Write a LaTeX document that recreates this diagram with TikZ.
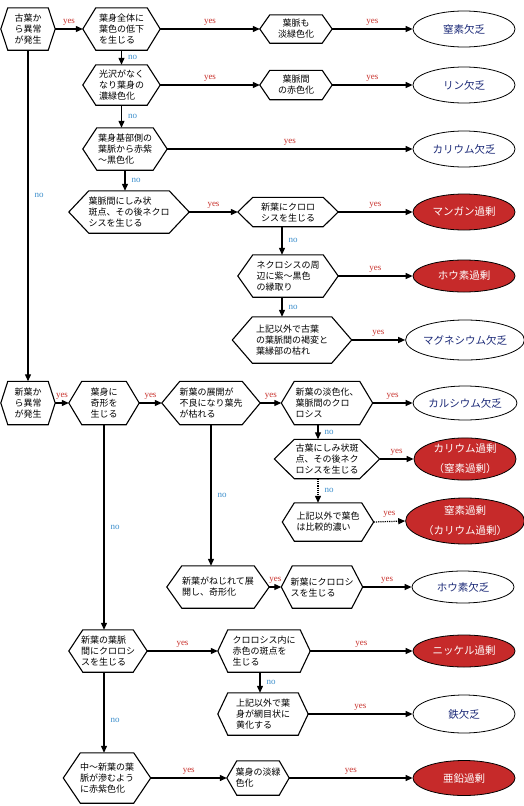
\documentclass[tikz,border=0pt]{standalone}
\usepackage{fontspec}
\usepackage{tikz}
\usetikzlibrary{arrows.meta,shapes.geometric}
\newfontfamily\jpfont{Noto Sans CJK JP}
\newfontfamily\lblfont{Liberation Serif}
\definecolor{yesred}{HTML}{C8322D}
\definecolor{noblue}{HTML}{3A8DCB}
\definecolor{deepred}{HTML}{C62A2A}
\definecolor{navy}{HTML}{1C2A78}

\tikzset{
  hexbox/.style={font=\jpfont\fontsize{9}{11}\selectfont, align=left, inner sep=0pt},
  hexsize/.style args={#1x#2}{minimum width=#1pt, minimum height=#2pt},
  hexline/.style={line width=1.1pt, line join=miter},
  okbox/.style={ellipse, draw, line width=0.8pt, fill=white, text=navy, align=center,
    font=\jpfont\fontsize{10.5}{20}\selectfont, minimum width=102pt, minimum height=36pt, inner sep=0pt},
  badbox/.style={okbox, fill=deepred, text=white},
  arr/.style={-{Triangle[length=7pt,width=6pt]}, line width=1.2pt},
  yeslbl/.style={font=\lblfont\fontsize{9}{9}\selectfont, text=yesred, midway, above=2pt, inner sep=1pt},
  nolbl/.style={font=\lblfont\fontsize{9}{9}\selectfont, text=noblue, midway, right=5pt, inner sep=1pt},
}

\begin{document}
\begin{tikzpicture}[x=1pt,y=-1pt]
  \useasboundingbox (0,0) rectangle (524,806);
  % old leaves
  \node[hexbox, hexsize=54x42] (A1) at (28,29) {古葉か\\ら異常\\が発生};
  \node[hexbox, hexsize=77x42] (A2) at (121.5,29) {葉身全体に\\葉色の低下\\を生じる};
  \node[hexbox, hexsize=72x28, align=center] (A3) at (296,29) {葉脈も\\淡緑色化};
  \node[hexbox, hexsize=77x40] (B2) at (121.5,85) {光沢がなく\\なり葉身の\\濃緑色化};
  \node[hexbox, hexsize=72x29, align=center] (B3) at (296,85) {葉脈間\\の赤色化};
  \node[hexbox, hexsize=84x42] (C2) at (125,149) {葉身基部側の\\葉脈から赤紫\\～黒色化};
  \node[hexbox, hexsize=120x42] (D2) at (129,212) {葉脈間にしみ状\\斑点、その後ネクロ\\シスを生じる};
  \node[hexbox, hexsize=100x29] (D3) at (288,212) {新葉にクロロ\\シスを生じる};
  \node[hexbox, hexsize=100x42] (D4) at (288,276) {ネクロシスの周\\辺に紫～黒色\\の縁取り};
  \node[hexbox, hexsize=119x46] (D5) at (292,340) {上記以外で古葉\\の葉脈間の褐変と\\葉縁部の枯れ};
  % new leaves
  \node[hexbox, hexsize=54x43] (F1) at (28,403) {新葉か\\ら異常\\が発生};
  \node[hexbox, hexsize=70x43, align=center] (F2) at (104,403) {葉身に\\奇形を\\生じる};
  \node[hexbox, hexsize=98x43] (F3) at (211,403) {新葉の展開が\\不良になり葉先\\が枯れる};
  \node[hexbox, hexsize=91x43] (F4) at (327,403) {新葉の淡色化、\\葉脈間のクロ\\ロシス};
  \node[hexbox, hexsize=105x39] (G4) at (327,459) {古葉にしみ状斑\\点、その後ネク\\ロシスを生じる};
  \node[hexbox, hexsize=91x38] (H4) at (328,522) {上記以外で葉色\\は比較的濃い};
  \node[hexbox, hexsize=102x42] (I3) at (218,587) {新葉がねじれて展\\開し、奇形化};
  \node[hexbox, hexsize=81x42] (I4) at (322,587) {新葉にクロロシ\\スを生じる};
  \node[hexbox, hexsize=78x42] (J2) at (108,651) {新葉の葉脈\\間にクロロシ\\スを生じる};
  \node[hexbox, hexsize=92x42] (J3) at (264,651) {クロロシス内に\\赤色の斑点を\\生じる};
  \node[hexbox, hexsize=90x42] (K3) at (263,714) {上記以外で葉\\身が網目状に\\黄化する};
  \node[hexbox, hexsize=87x50] (L2) at (107,778) {中～新葉の葉\\脈が滲むよう\\に赤紫色化};
  \node[hexbox, hexsize=62x34] (L3) at (258,778) {葉身の淡緑\\色化};
  \foreach \n/\d in {A1/7,A2/13,A3/10,B2/13,B3/10,C2/14,D2/20,D3/15,D4/15,D5/20,
      F1/7,F2/13,F3/18,F4/13,G4/20,H4/12,I3/15,I4/11,J2/14,J3/10,K3/10,L2/17,L3/10}
    \draw[hexline] (\n.west) -- ([xshift=\d pt]\n.north west) -- ([xshift=-\d pt]\n.north east)
      -- (\n.east) -- ([xshift=-\d pt]\n.south east) -- ([xshift=\d pt]\n.south west) -- cycle;
  % results
  \node[okbox] (E1) at (464,29) {窒素欠乏};
  \node[okbox] (E2) at (464,85) {リン欠乏};
  \node[okbox] (E3) at (464,149) {カリウム欠乏};
  \node[badbox] (E4) at (464,212) {マンガン過剰};
  \node[badbox, minimum height=32pt] (E5) at (464,276) {ホウ素過剰};
  \node[okbox, minimum width=106pt, minimum height=40pt] (E6) at (465,340) {マグネシウム欠乏};
  \node[okbox, minimum height=34pt] (E7) at (465,403) {カルシウム欠乏};
  \node[badbox, minimum height=42pt] (E8) at (465,459) {カリウム過剰\\（窒素過剰）};
  \node[badbox, minimum height=46pt] (E9) at (465,521) {窒素過剰\\（カリウム過剰）};
  \node[okbox, minimum height=32pt] (E10) at (463,587) {ホウ素欠乏};
  \node[badbox, minimum height=32pt] (E11) at (464,651) {ニッケル過剰};
  \node[okbox, minimum height=38pt] (E12) at (464,714) {鉄欠乏};
  \node[badbox, minimum height=35pt] (E13) at (464,778) {亜鉛過剰};
  % old leaf branch
  \draw[arr] (A1.east) -- node[yeslbl] {yes} (A2.west);
  \draw[arr] (A2.east) -- node[yeslbl] {yes} (A3.west);
  \draw[arr] (A3.east) -- node[yeslbl] {yes} (E1.west);
  \draw[arr] (A2.south) -- node[nolbl] {no} (A2.south |- B2.north);
  \draw[arr] (B2.east) -- node[yeslbl] {yes} (B3.west);
  \draw[arr] (B3.east) -- node[yeslbl] {yes} (E2.west);
  \draw[arr] (B2.south) -- node[nolbl] {no} (B2.south |- C2.north);
  \draw[arr] (C2.east) -- node[yeslbl] {yes} (E3.west);
  \draw[arr] (C2.south) -- node[nolbl] {no} (C2.south |- D2.north);
  \draw[arr] (D2.east) -- node[yeslbl] {yes} (D3.west);
  \draw[arr] (D3.east) -- node[yeslbl] {yes} (E4.west);
  \draw[arr] ([xshift=-6pt]D3.south) -- node[nolbl] {no} ([xshift=-6pt]D3.south |- D4.north);
  \draw[arr] (D4.east) -- node[yeslbl] {yes} (E5.west);
  \draw[arr] ([xshift=-6pt]D4.south) -- node[nolbl] {no} ([xshift=-6pt]D4.south |- D5.north);
  \draw[arr] (D5.east) -- node[yeslbl] {yes} (E6.west);
  \draw[arr] (A1.south) -- node[nolbl, pos=0.44] {no} (F1.north);
  % new leaf branch
  \draw[arr] (F1.east) -- node[yeslbl] {yes} (F2.west);
  \draw[arr] (F2.east) -- node[yeslbl] {yes} (F3.west);
  \draw[arr] (F3.east) -- node[yeslbl] {yes} (F4.west);
  \draw[arr] (F4.east) -- node[yeslbl] {yes} (E7.west);
  \draw[arr] ([xshift=-9pt]F4.south) -- node[nolbl] {no} ([xshift=-9pt]F4.south |- G4.north);
  \draw[arr] (G4.east) -- node[yeslbl] {yes} (E8.west);
  \draw[arr, densely dotted] ([xshift=-9pt]G4.south) -- node[nolbl] {no} ([xshift=-9pt]G4.south |- H4.north);
  \draw[arr, densely dotted] (H4.east) -- node[yeslbl] {yes} (E9.west);
  \draw[arr] (F3.south) -- node[nolbl] {no} (F3.south |- I3.north);
  \draw[arr] (I3.east) -- node[yeslbl] {yes} (I4.west);
  \draw[arr] (I4.east) -- node[yeslbl] {yes} (E10.west);
  \draw[arr] (F2.south) -- node[nolbl] {no} (F2.south |- J2.north);
  \draw[arr] (J2.east) -- node[yeslbl] {yes} (J3.west);
  \draw[arr] (J3.east) -- node[yeslbl] {yes} (E11.west);
  \draw[arr] ([xshift=-4pt]J3.south) -- node[nolbl] {no} ([xshift=-4pt]J3.south |- K3.north);
  \draw[arr] (K3.east) -- node[yeslbl] {yes} (E12.west);
  \draw[arr] (F2.south |- J2.south) -- node[nolbl, pos=0.6] {no} (F2.south |- L2.north);
  \draw[arr] (L2.east) -- node[yeslbl] {yes} (L3.west);
  \draw[arr] (L3.east) -- node[yeslbl] {yes} (E13.west);
\end{tikzpicture}
\end{document}
